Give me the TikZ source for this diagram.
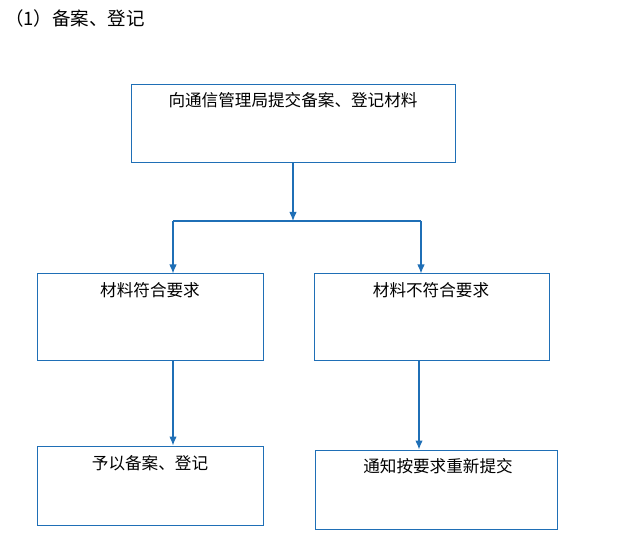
\documentclass[tikz,border=0pt]{standalone}
\usepackage{fontspec}
\setmainfont{Noto Sans CJK SC}
\usetikzlibrary{arrows.meta}

\definecolor{flowblue}{RGB}{31,111,182}

\tikzset{
  box/.style={draw=flowblue, line width=1pt, rectangle, inner sep=0pt},
  boxtext/.style={font=\fontsize{16.6}{18}\selectfont, inner sep=0pt},
  flow/.style={draw=flowblue, line width=1.2pt},
  flowarrow/.style={flow, -{Latex[length=9pt,width=7.5pt]}}
}

\begin{document}
\begin{tikzpicture}[x=1pt, y=-1pt]
    \useasboundingbox (0,0) rectangle (624,545);

    % Title
    \node[anchor=west, inner sep=0pt, font=\fontsize{18.5}{20}\selectfont] (title) at (5,18) {（1）备案、登记};

    % Boxes
    \node[box, minimum width=324pt, minimum height=78pt] (submit) at (293,124) {};
    \node[box, minimum width=226pt, minimum height=87pt] (ok) at (150,317.5) {};
    \node[box, minimum width=235pt, minimum height=87pt] (notok) at (431.5,317.5) {};
    \node[box, minimum width=226pt, minimum height=79pt] (grant) at (150,485.5) {};
    \node[box, minimum width=242pt, minimum height=79pt] (resubmit) at (436,489.5) {};

    % Box texts
    \node[boxtext] (submittxt) at (293,100.5) {向通信管理局提交备案、登记材料};
    \node[boxtext] (oktxt) at (150,290.5) {材料符合要求};
    \node[boxtext] (notoktxt) at (431,290.5) {材料不符合要求};
    \node[boxtext] (granttxt) at (150,463) {予以备案、登记};
    \node[boxtext] (resubmittxt) at (438,466.5) {通知按要求重新提交};

    % Fork
    \coordinate (fork) at (293,221);
    \coordinate (forkl) at (173,221);
    \coordinate (forkr) at (421,221);
    \coordinate (downr) at (419,0);

    \draw[flowarrow] (submit.south) -- (fork);
    \draw[flow] (forkl) -- (forkr);
    \draw[flowarrow] (forkl) -- (forkl |- ok.north);
    \draw[flowarrow] (forkr) -- (forkr |- notok.north);

    % Lower arrows
    \draw[flowarrow] (forkl |- ok.south) -- (forkl |- grant.north);
    \draw[flowarrow] (downr |- notok.south) -- (downr |- resubmit.north);
\end{tikzpicture}
\end{document}
